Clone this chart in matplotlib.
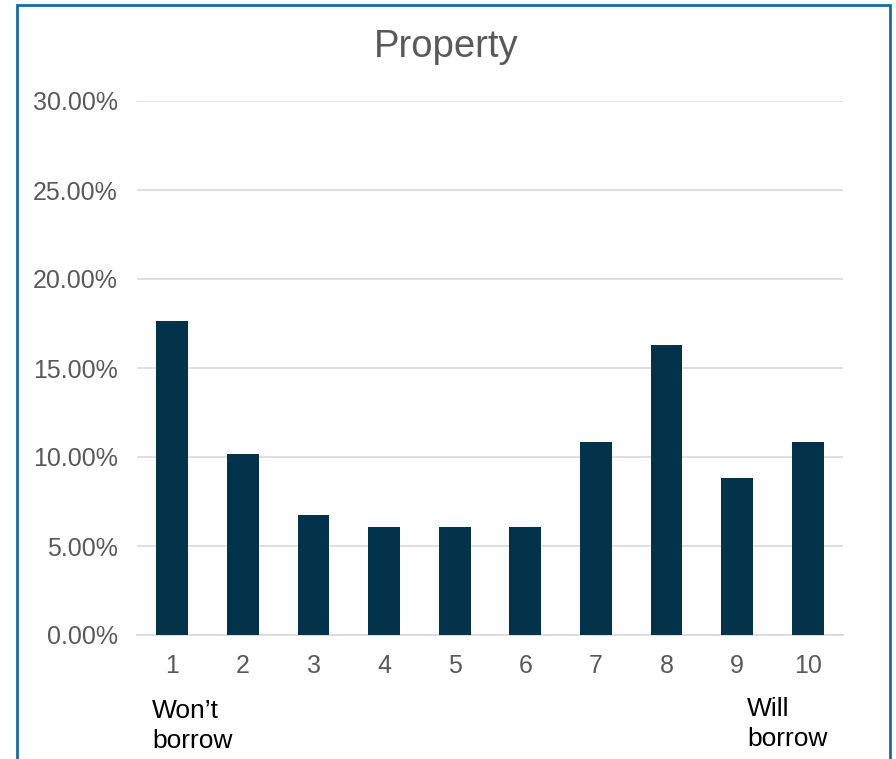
import matplotlib
matplotlib.use("Agg")
import matplotlib.pyplot as plt
from matplotlib.patches import Rectangle
from matplotlib.ticker import FuncFormatter

plt.rcParams['font.family'] = ['Liberation Sans', 'DejaVu Sans']

categories = ["1", "2", "3", "4", "5", "6", "7", "8", "9", "10"]
values = [17.65, 10.17, 6.74, 6.07, 6.07, 6.07, 10.84, 16.29, 8.82, 10.84]
yticks = [0, 5, 10, 15, 20, 25, 30]
title = "Property"
left_note = "Won\u2019t\nborrow"
right_note = "Will\nborrow"

W, H = 896, 759
fig = plt.figure(figsize=(W / 100, H / 100), dpi=100)
fig.patch.set_facecolor("white")

# chart border (blue frame, bottom runs past the image)
fig.patches.append(Rectangle((17 / W, -0.05), (890 - 17) / W, (H - 5) / H + 0.05,
                             transform=fig.transFigure, fill=False,
                             edgecolor="#1a6a9a", linewidth=2.0))

ax = fig.add_axes([137 / W, 1 - 635 / H, (843 - 137) / W, (635 - 101) / H])
x = list(range(1, len(categories) + 1))
ax.bar(x, values, width=0.45, color="#02334b", zorder=3)
ax.set_xlim(0.5, 10.5)
ax.set_ylim(0, 30)
ax.set_yticks(yticks)
ax.yaxis.set_major_formatter(FuncFormatter(lambda v, p: f"{v:.2f}%"))
ax.set_xticks(x)
ax.set_xticklabels(categories)
ax.grid(axis="y", color="#d9d9d9", linewidth=1.2, zorder=0)
for s in ["top", "right", "left"]:
    ax.spines[s].set_visible(False)
ax.spines["bottom"].set_color("#d9d9d9")
ax.spines["bottom"].set_linewidth(1.2)
ax.tick_params(axis="both", length=0, colors="#595959", labelsize=18)
ax.tick_params(axis="y", pad=14)
ax.tick_params(axis="x", pad=14)

fig.text(446 / W, 1 - 47 / H, title, ha="center", va="center", fontsize=27.5, color="#595959")
fig.text(152 / W, 1 - 699 / H, left_note, ha="left", va="top", fontsize=19,
         color="black", linespacing=1.3)
fig.text(747 / W, 1 - 697 / H, right_note, ha="left", va="top", fontsize=19,
         color="black", linespacing=1.3)

fig.savefig("out.png", dpi=100, facecolor="white")
